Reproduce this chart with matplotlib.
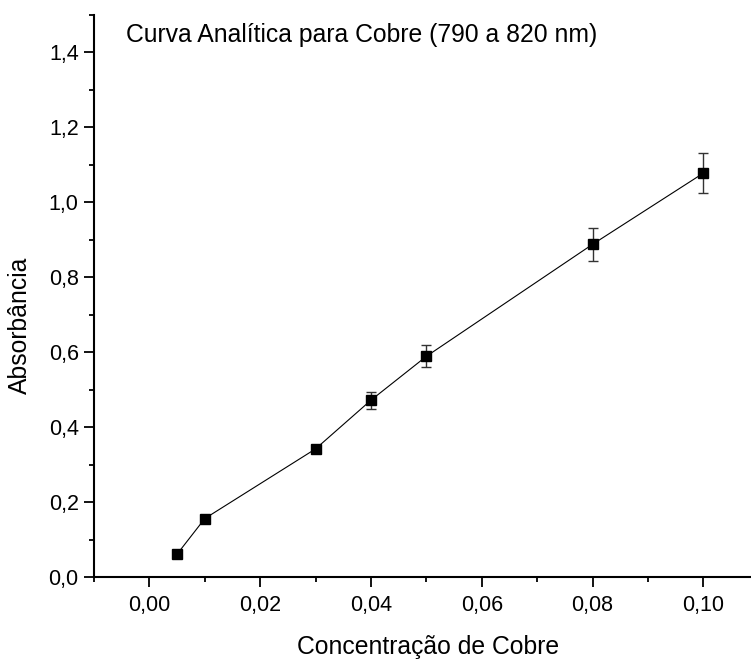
import matplotlib
matplotlib.use("Agg")
import matplotlib.pyplot as plt
from matplotlib.ticker import MultipleLocator, FuncFormatter

plt.rcParams['font.family'] = ['Liberation Sans', 'DejaVu Sans']

# Calibration data: copper concentration vs. absorbance (790-820 nm)
concentracao = [0.005, 0.01, 0.03, 0.04, 0.05, 0.08, 0.10]
absorbancia = [0.061, 0.156, 0.342, 0.472, 0.589, 0.888, 1.078]
desvio = [0.003, 0.004, 0.010, 0.023, 0.029, 0.044, 0.054]

titulo = "Curva Analítica para Cobre (790 a 820 nm)"
rotulo_x = "Concentração de Cobre"
rotulo_y = "Absorbância"
ticks_x = [0.0, 0.02, 0.04, 0.06, 0.08, 0.10]

W, H = 751, 659
fig = plt.figure(figsize=(W / 100, H / 100), dpi=100)

x0, x1 = -0.01, 0.11
y0, y1 = 0.0, 1.5
left_px, bottom_px, top_px = 94, 577, 15
px_per_x = 5540.0
ax = fig.add_axes([left_px / W, (H - bottom_px) / H,
                   (x1 - x0) * px_per_x / W, (bottom_px - top_px) / H])

ax.errorbar(concentracao, absorbancia, yerr=desvio, fmt='-', color='black',
            lw=0.8, ecolor='#333333', elinewidth=1.0, capsize=3.6,
            capthick=1.0, marker='s', markersize=7.5, markerfacecolor='black',
            markeredgecolor='black', clip_on=False)

ax.set_xlim(x0, x1)
ax.set_ylim(y0, y1)

for s in ('top', 'right'):
    ax.spines[s].set_visible(False)
for s in ('left', 'bottom'):
    ax.spines[s].set_linewidth(1.5)

ax.set_xticks(ticks_x)
ax.xaxis.set_minor_locator(MultipleLocator(0.01))
ax.yaxis.set_major_locator(MultipleLocator(0.2))
ax.yaxis.set_minor_locator(MultipleLocator(0.1))

ax.xaxis.set_major_formatter(FuncFormatter(lambda v, p: f"{abs(v):.2f}".replace('.', ',')))
ax.yaxis.set_major_formatter(FuncFormatter(lambda v, p: f"{v:.1f}".replace('.', ',')))

ax.tick_params(which='major', direction='out', length=7, width=1.3,
               labelsize=15.5, colors='black')
ax.tick_params(which='minor', direction='out', length=3.3, width=1.3)
ax.tick_params(axis='x', which='major', pad=6)
ax.tick_params(axis='y', which='major', pad=4)
ax.tick_params(axis='x', which='both', top=False)
ax.tick_params(axis='y', which='both', right=False)

fig.text(428 / W, 1 - 647 / H, rotulo_x, ha='center', va='center', fontsize=17.8)
fig.text(20 / W, 1 - 325 / H, rotulo_y, ha='center', va='center',
         rotation=90, fontsize=17.8)
fig.text(126 / W, 1 - 42 / H, titulo, ha='left', va='baseline', fontsize=17.8)

fig.savefig("out.png", dpi=100)
